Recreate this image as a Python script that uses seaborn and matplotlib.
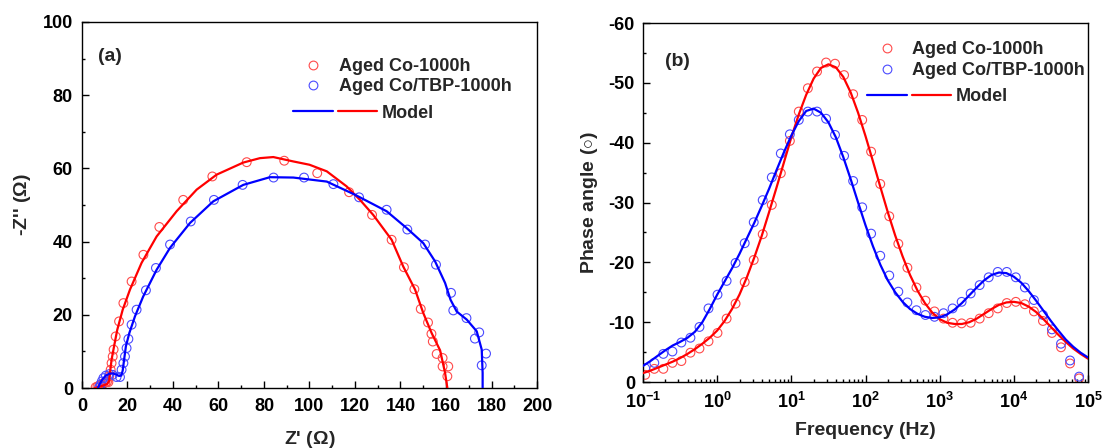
import numpy as np
import matplotlib
matplotlib.use("Agg")
import matplotlib.pyplot as plt
import seaborn as sns
from matplotlib.lines import Line2D
from matplotlib.legend_handler import HandlerTuple
from matplotlib.ticker import MultipleLocator, LogLocator, FuncFormatter, NullFormatter

RED = "#ff0000"
BLUE = "#0000ff"
RED_PT = "#ff4a4a"
BLUE_PT = "#4a4aff"

LABEL_CO = "Aged Co-1000h"
LABEL_TBP = "Aged Co/TBP-1000h"
LABEL_MODEL = "Model"

# (a) Nyquist, measured points
red_zre = [6.0, 6.8, 7.6, 8.5, 9.4, 10.3, 11.0, 11.6, 12.0, 12.6, 13.0, 13.5, 13.9,
           14.8, 16.3, 18.2, 21.8, 27.0, 34.0, 44.5, 57.3, 72.4, 88.9, 103.4, 117.4,
           127.5, 136.1, 141.5, 146.1, 148.9, 152.1, 153.6, 154.2, 155.9, 158.5,
           158.5, 161.0, 160.6]
red_zim = [0.2, 0.4, 0.7, 1.0, 1.3, 1.5, 1.7, 1.6, 3.2, 5.0, 6.8, 8.6, 10.5,
           14.1, 18.2, 23.2, 29.1, 36.4, 44.0, 51.4, 57.8, 61.7, 62.1, 58.7, 53.5,
           47.3, 40.5, 33.0, 27.0, 21.6, 17.9, 14.8, 12.7, 9.3, 8.2,
           5.9, 5.9, 3.2]
blue_zre = [7.6, 8.2, 8.7, 9.4, 10.5, 12.0, 13.5, 15.2, 16.7, 17.4, 18.2, 18.9, 19.6,
            20.4, 21.8, 24.0, 28.1, 32.5, 38.7, 47.8, 58.0, 70.6, 84.2, 97.6, 110.5,
            121.8, 133.9, 143.0, 150.8, 155.6, 162.2, 163.2, 169.0, 174.6, 172.7,
            177.6, 175.7]
blue_zim = [0.2, 0.9, 1.8, 2.7, 3.4, 3.8, 3.6, 3.0, 3.0, 5.0, 6.8, 8.6, 10.9,
            13.4, 17.3, 21.4, 26.7, 32.8, 39.2, 45.5, 51.4, 55.5, 57.5, 57.5, 55.7,
            52.1, 48.7, 43.3, 39.2, 33.7, 26.0, 21.2, 19.1, 15.2, 13.5,
            9.4, 6.2]

# (a) Nyquist, model curves
red_fit_zre = [5.7, 7.5, 9.4, 11.0, 11.9, 12.3, 13.0, 14.1, 15.5, 17.9, 21.1, 26.2,
               32.8, 41.6, 50.4, 59.2, 70.9, 78.2, 84.1, 92.9, 100.0, 107.6, 116.3,
               122.2, 128.0, 136.1, 141.2, 146.4, 150.0, 153.7, 157.4, 159.6, 160.6]
red_fit_zim = [0.0, 0.3, 0.7, 1.1, 1.8, 4.1, 7.7, 11.4, 15.9, 21.4, 26.9, 34.2,
               41.4, 48.3, 54.2, 58.3, 61.6, 62.8, 63.1, 61.9, 61.0, 59.2, 55.1,
               51.4, 47.3, 40.5, 33.2, 26.9, 20.5, 15.0, 10.3, 4.1, 0.0]
blue_fit_zre = [7.0, 8.0, 9.0, 10.5, 12.0, 13.5, 15.0, 16.3, 17.3, 17.9, 18.5, 19.3,
                20.8, 23.3, 26.9, 32.8, 38.7, 47.5, 57.7, 70.9, 82.6, 92.9, 107.6,
                120.0, 133.9, 142.7, 150.0, 155.2, 159.6, 162.0, 164.7, 169.1, 173.5,
                175.7, 176.1, 176.1]
blue_fit_zim = [0.0, 1.3, 2.4, 3.4, 3.9, 4.0, 3.7, 3.3, 3.4, 4.8, 7.7, 11.4,
                15.0, 19.6, 25.0, 32.3, 38.3, 45.1, 51.0, 55.5, 57.6, 57.5, 56.4,
                52.8, 48.3, 43.7, 39.6, 34.6, 28.7, 24.1, 20.9, 18.7, 15.5,
                10.5, 4.1, 0.0]

# (b) Bode phase, measured points
freq_hz = [0.107, 0.142, 0.188, 0.249, 0.329, 0.436, 0.577, 0.764,
           1.01, 1.34, 1.77, 2.35, 3.11, 4.11, 5.45, 7.21,
           9.55, 12.6, 16.7, 22.2, 29.4, 38.8, 51.4, 68.1,
           90.2, 119, 158, 209, 277, 367, 486, 643,
           851, 1127, 1492, 1977, 2618, 3461, 4581, 6067,
           8035, 10640, 14090, 18660, 24710, 32660, 43250, 57280, 75860]
red_phase = [-1.2, -2.2, -2.2, -3.2, -3.5, -4.9, -5.6, -6.8,
             -8.2, -10.6, -13.1, -16.7, -20.4, -24.7, -29.6, -34.9,
             -40.3, -45.2, -49.1, -51.9, -53.4, -53.2, -51.3, -48.1,
             -43.8, -38.5, -33.1, -27.7, -23.1, -19.1, -15.8, -13.6,
             -11.8, -10.6, -9.9, -9.8, -9.9, -10.6, -11.5, -12.3,
             -13.2, -13.4, -13.0, -11.8, -10.2, -8.2, -5.8, -3.1, -0.6]
blue_phase = [-2.3, -3.2, -4.7, -5.1, -6.6, -7.4, -9.2, -12.3,
              -14.6, -16.9, -19.9, -23.2, -26.7, -30.4, -34.2, -38.2,
              -41.4, -43.8, -45.2, -45.2, -44.0, -41.3, -37.8, -33.6,
              -29.2, -24.8, -21.1, -17.8, -15.1, -13.3, -12.0, -11.2,
              -10.9, -11.5, -12.3, -13.4, -14.8, -16.2, -17.5, -18.4,
              -18.4, -17.5, -15.8, -13.7, -11.2, -8.8, -6.4, -3.6, -0.9]

# (b) Bode phase, model curves (log10 of frequency)
fit_logf = [-1.0, -0.9, -0.8, -0.7, -0.6, -0.5, -0.4, -0.3, -0.2, -0.1,
            0.0, 0.1, 0.2, 0.3, 0.4, 0.5, 0.6, 0.7, 0.8, 0.9,
            1.0, 1.1, 1.2, 1.3, 1.4, 1.5, 1.6, 1.7, 1.8, 1.9,
            2.0, 2.1, 2.2, 2.3, 2.4, 2.5, 2.6, 2.7, 2.8, 2.9,
            3.0, 3.1, 3.2, 3.3, 3.4, 3.5, 3.6, 3.7, 3.8, 3.9,
            4.0, 4.1, 4.2, 4.3, 4.4, 4.5, 4.6, 4.7, 4.8, 4.9, 5.0]
red_fit_phase = [-1.5, -1.9, -2.4, -2.9, -3.4, -4.0, -4.7, -5.5, -6.4, -7.4,
                 -8.6, -10.2, -12.2, -14.6, -17.5, -20.8, -24.4, -28.4, -32.5, -36.7,
                 -40.9, -44.7, -48.0, -50.7, -52.5, -53.1, -52.6, -51.0, -48.4, -45.0,
                 -41.1, -36.9, -32.6, -28.4, -24.5, -21.0, -17.9, -15.3, -13.2, -11.6,
                 -10.5, -9.9, -9.7, -9.7, -10.0, -10.6, -11.4, -12.2, -12.9, -13.3,
                 -13.4, -13.2, -12.6, -11.7, -10.5, -9.2, -7.9, -6.7, -5.6, -4.7, -3.9]
blue_fit_phase = [-2.7, -3.5, -4.4, -5.3, -6.1, -6.7, -7.4, -8.4, -10.0, -12.2,
                  -14.6, -16.8, -19.0, -21.4, -24.0, -26.6, -29.4, -32.3, -35.4, -38.4,
                  -41.2, -43.6, -45.3, -45.7, -45.0, -43.4, -40.9, -37.6, -33.9, -30.0,
                  -26.2, -22.7, -19.6, -17.0, -15.0, -13.4, -12.2, -11.4, -10.9, -10.7,
                  -10.8, -11.3, -12.1, -13.2, -14.5, -15.8, -17.0, -17.9, -18.3, -18.2,
                  -17.6, -16.6, -15.2, -13.6, -11.9, -10.2, -8.6, -7.1, -5.9, -4.9, -4.1]

sns.set_theme(style="white")
plt.rcParams["font.family"] = ["Liberation Sans", "DejaVu Sans"]
plt.rcParams["font.weight"] = "bold"
plt.rcParams["axes.unicode_minus"] = False
plt.rcParams["mathtext.fontset"] = "custom"
plt.rcParams["mathtext.rm"] = "Liberation Sans"
plt.rcParams["mathtext.bf"] = "Liberation Sans:bold"
plt.rcParams["mathtext.it"] = "Liberation Sans:italic"
plt.rcParams["mathtext.default"] = "rm"

TICK_FS = 13
LABEL_FS = 14
LEG_FS = 13
PT_SIZE = 40
PT_MS = 6.3


def style_axes(ax):
    for sp in ax.spines.values():
        sp.set_visible(True)
        sp.set_color("black")
        sp.set_linewidth(1.0)
    ax.tick_params(which="both", direction="in", top=False, right=False,
                   left=True, bottom=True, color="black", width=1.0,
                   labelsize=TICK_FS, labelcolor="black")
    ax.tick_params(which="major", length=5)
    ax.tick_params(which="minor", length=2.5)
    ax.grid(False)


def add_legends(ax, pos1, pos2):
    h_red = Line2D([], [], ls="none", marker="o", ms=PT_MS, mfc="none",
                   mec=RED_PT, mew=0.8)
    h_blue = Line2D([], [], ls="none", marker="o", ms=PT_MS, mfc="none",
                    mec=BLUE_PT, mew=0.8)
    leg1 = ax.legend([h_red, h_blue], [LABEL_CO, LABEL_TBP], loc="upper left",
                     bbox_to_anchor=pos1, frameon=False, borderpad=0,
                     borderaxespad=0, handlelength=1.0, handletextpad=0.92,
                     labelspacing=0.2, prop={"size": LEG_FS, "weight": "bold"})
    ax.add_artist(leg1)
    l_blue = Line2D([], [], color=BLUE, lw=1.6)
    l_red = Line2D([], [], color=RED, lw=1.6)
    ax.legend([(l_blue, l_red)], [LABEL_MODEL], loc="upper left",
              bbox_to_anchor=pos2, frameon=False, borderpad=0, borderaxespad=0,
              handlelength=4.65, handletextpad=0.25,
              handler_map={tuple: HandlerTuple(ndivide=None, pad=0.25)},
              prop={"size": LEG_FS, "weight": "bold"})


fig = plt.figure(figsize=(11.02, 4.48), dpi=100)
ax_a = fig.add_axes([0.0744, 0.1339, 0.4129, 0.817])
ax_b = fig.add_axes([0.5835, 0.1473, 0.4038, 0.8013])

# ---- (a) Nyquist
sns.scatterplot(x=red_zre, y=red_zim, ax=ax_a, marker="o", s=PT_SIZE,
                facecolors="none", edgecolor=RED_PT, linewidth=0.8, zorder=2)
sns.scatterplot(x=blue_zre, y=blue_zim, ax=ax_a, marker="o", s=PT_SIZE,
                facecolors="none", edgecolor=BLUE_PT, linewidth=0.8, zorder=2)
sns.lineplot(x=red_fit_zre, y=red_fit_zim, ax=ax_a, sort=False, estimator=None,
             color=RED, linewidth=1.6, zorder=3)
sns.lineplot(x=blue_fit_zre, y=blue_fit_zim, ax=ax_a, sort=False, estimator=None,
             color=BLUE, linewidth=1.6, zorder=3)
ax_a.set_xlim(0, 200)
ax_a.set_ylim(0, 100)
ax_a.xaxis.set_major_locator(MultipleLocator(20))
ax_a.xaxis.set_minor_locator(MultipleLocator(10))
ax_a.yaxis.set_major_locator(MultipleLocator(20))
ax_a.yaxis.set_minor_locator(MultipleLocator(10))
style_axes(ax_a)
ax_a.tick_params(axis="y", pad=6.5)
ax_a.tick_params(axis="x", pad=7)
ax_a.set_xlabel(r"Z' $(\Omega)$", fontsize=LABEL_FS, fontweight="bold", labelpad=10)
ax_a.set_ylabel(r"-Z'' $(\Omega)$", fontsize=LABEL_FS, fontweight="bold", labelpad=7)
ax_a.text(0.036, 0.905, "(a)", transform=ax_a.transAxes, fontsize=14,
          fontweight="bold", ha="left", va="center")
add_legends(ax_a, (0.4886, 0.902), (0.4644, 0.774))

# ---- (b) Bode phase
ax_b.set_xscale("log")
sns.scatterplot(x=freq_hz, y=red_phase, ax=ax_b, marker="o", s=PT_SIZE,
                facecolors="none", edgecolor=RED_PT, linewidth=0.8, zorder=2)
sns.scatterplot(x=freq_hz, y=blue_phase, ax=ax_b, marker="o", s=PT_SIZE,
                facecolors="none", edgecolor=BLUE_PT, linewidth=0.8, zorder=2)
fit_f = 10 ** np.array(fit_logf)
sns.lineplot(x=fit_f, y=red_fit_phase, ax=ax_b, sort=False, estimator=None,
             color=RED, linewidth=1.6, zorder=3)
sns.lineplot(x=fit_f, y=blue_fit_phase, ax=ax_b, sort=False, estimator=None,
             color=BLUE, linewidth=1.6, zorder=3)
ax_b.set_xlim(0.1, 1e5)
ax_b.set_ylim(0, -60)
ax_b.xaxis.set_major_locator(LogLocator(base=10, numticks=20))
ax_b.xaxis.set_minor_locator(LogLocator(base=10, subs=np.arange(2, 10), numticks=20))
ax_b.xaxis.set_major_formatter(
    FuncFormatter(lambda v, p: r"$\mathbf{10^{%d}}$" % int(round(np.log10(v)))))
ax_b.xaxis.set_minor_formatter(NullFormatter())
ax_b.yaxis.set_major_locator(MultipleLocator(10))
ax_b.yaxis.set_minor_locator(MultipleLocator(5))
ax_b.yaxis.set_major_formatter(FuncFormatter(lambda v, p: "%d" % round(v)))
style_axes(ax_b)
ax_b.tick_params(axis="y", pad=5.8)
ax_b.tick_params(axis="x", pad=7)
ax_b.set_xlabel("Frequency (Hz)", fontsize=LABEL_FS, fontweight="bold", labelpad=7)
ax_b.set_ylabel(r"Phase angle $(\circ)$", fontsize=LABEL_FS, fontweight="bold",
                labelpad=6)
ax_b.text(0.049, 0.892, "(b)", transform=ax_b.transAxes, fontsize=14,
          fontweight="bold", ha="left", va="center")
add_legends(ax_b, (0.5274, 0.949), (0.504, 0.819))

fig.savefig("out.png", dpi=100)
plt.close(fig)
